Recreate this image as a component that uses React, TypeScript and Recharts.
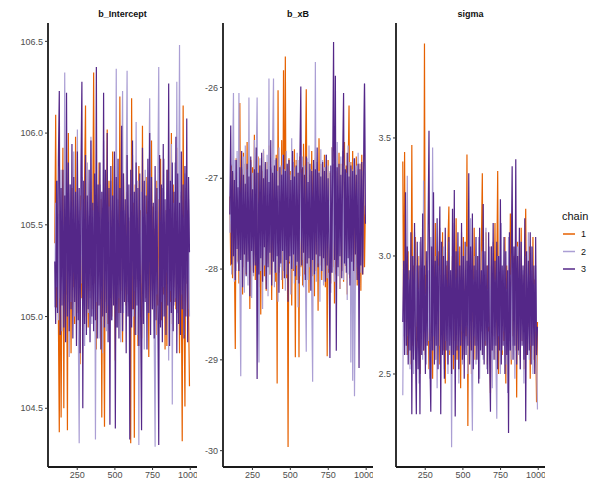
import { LineChart, Line, XAxis, YAxis } from 'recharts'

// iterations (post warmup), one row per drawn draw
const ITER = [
  101, 107, 113, 119, 125, 131, 137, 143, 149, 155, 161, 167, 173, 179, 185, 191, 197, 203, 209, 215,
  221, 227, 233, 239, 245, 251, 257, 263, 269, 275, 281, 287, 293, 299, 305, 311, 317, 323, 329, 335,
  341, 347, 353, 359, 365, 371, 377, 383, 389, 395, 401, 407, 413, 419, 425, 431, 437, 443, 449, 455,
  461, 467, 473, 479, 485, 491, 497, 503, 509, 515, 521, 527, 533, 539, 545, 551, 557, 563, 569, 575,
  581, 587, 593, 599, 605, 611, 617, 623, 629, 635, 641, 647, 653, 659, 665, 671, 677, 683, 689, 695,
  701, 707, 713, 719, 725, 731, 737, 743, 749, 755, 761, 767, 773, 779, 785, 791, 797, 803, 809, 815,
  821, 827, 833, 839, 845, 851, 857, 863, 869, 875, 881, 887, 893, 899, 905, 911, 917, 923, 929, 935,
  941, 947, 953, 959, 965, 971, 977, 983, 989, 995,
]

const CHAINS = ['1', '2', '3']
const CHAIN_COLORS = ['#e66101', '#ab9fd4', '#542788']

// b_Intercept
const INTERCEPT_1 = [
  105.40, 106.10, 105.05, 105.62, 104.98, 104.37, 105.58, 104.45, 105.30, 105.92,
  104.50, 105.66, 105.12, 105.48, 104.38, 106.00, 105.08, 105.54, 104.80, 105.70,
  105.16, 105.44, 104.96, 105.98, 105.20, 105.60, 105.02, 105.38, 104.74, 105.66,
  105.10, 105.52, 105.24, 105.76, 106.15, 105.00, 105.58, 104.94, 105.46, 105.14,
  105.68, 105.04, 105.56, 106.33, 105.18, 105.62, 104.82, 105.50, 105.06, 105.84,
  105.22, 105.64, 104.45, 105.54, 105.12, 104.40, 105.70, 105.08, 106.02, 104.96,
  105.74, 105.18, 105.58, 105.00, 105.90, 105.26, 105.48, 104.76, 105.66, 105.10,
  105.56, 105.02, 106.20, 105.14, 105.60, 104.86, 105.78, 105.20, 105.44, 105.06,
  105.68, 105.12, 105.52, 104.92, 104.31, 106.19, 105.04, 105.62, 104.34, 105.72,
  105.16, 105.50, 104.84, 105.82, 105.22, 105.58, 104.88, 106.04, 105.08, 105.46,
  105.10, 105.76, 105.26, 105.54, 104.78, 105.70, 105.14, 105.96, 105.04, 105.60,
  105.18, 105.48, 104.90, 105.74, 105.06, 105.64, 105.24, 105.86, 104.98, 105.52,
  105.12, 105.68, 104.82, 105.58, 104.84, 105.80, 105.20, 105.46, 105.08, 106.00,
  104.96, 105.72, 105.16, 105.56, 105.04, 105.92, 105.10, 105.50, 104.80, 105.66,
  105.14, 104.32, 106.15, 105.08, 104.51, 105.70, 105.18, 105.58, 105.02, 104.62,
]
const INTERCEPT_2 = [
  105.05, 105.62, 105.16, 105.74, 104.98, 105.56, 105.10, 105.80, 104.92, 105.50,
  105.14, 106.33, 105.04, 105.66, 105.20, 105.48, 104.78, 105.72, 105.08, 105.60,
  105.24, 105.90, 105.00, 105.54, 105.12, 106.02, 104.94, 104.31, 105.58, 105.18,
  105.76, 105.06, 105.64, 104.84, 105.52, 105.16, 105.84, 105.02, 105.46, 105.10,
  105.98, 104.96, 105.58, 105.22, 105.78, 104.33, 105.62, 105.08, 105.50, 104.88,
  105.72, 105.14, 105.56, 104.80, 105.96, 105.20, 105.44, 104.92, 105.66, 105.06,
  105.60, 105.18, 105.74, 104.98, 105.52, 105.12, 105.82, 105.04, 106.35, 104.94,
  105.64, 105.10, 105.48, 104.86, 105.70, 106.23, 105.02, 105.58, 105.16, 105.76,
  106.34, 105.08, 105.54, 104.96, 105.66, 105.22, 105.88, 105.00, 105.50, 105.14,
  106.06, 104.90, 105.74, 104.30, 105.58, 105.06, 105.68, 105.18, 105.46, 104.82,
  105.80, 105.10, 105.56, 105.02, 105.72, 106.19, 105.04, 105.60, 105.20, 105.48,
  104.88, 104.29, 105.64, 105.12, 105.76, 106.36, 104.96, 105.52, 105.08, 105.70,
  105.16, 105.86, 105.00, 105.58, 105.24, 105.66, 104.76, 105.50, 105.14, 105.94,
  104.52, 105.62, 105.06, 105.84, 105.10, 106.28, 105.02, 105.56, 106.48, 104.98,
  105.68, 105.12, 105.54, 104.90, 105.78, 105.18, 105.48, 105.04, 105.64, 105.00,
]
const INTERCEPT_3 = [
  105.30, 104.96, 105.74, 105.02, 105.86, 106.23, 104.90, 105.70, 105.06, 105.80,
  104.94, 105.66, 104.86, 106.22, 105.00, 105.84, 104.92, 105.72, 105.04, 105.94,
  104.88, 105.76, 105.08, 105.68, 104.84, 105.90, 104.98, 105.70, 104.80, 105.82,
  106.28, 104.50, 105.74, 104.96, 105.88, 104.90, 105.66, 105.04, 105.80, 104.86,
  105.96, 105.00, 105.62, 104.92, 105.78, 104.98, 106.36, 104.88, 105.72, 105.06,
  105.84, 104.82, 105.68, 105.00, 106.22, 104.94, 105.80, 105.02, 106.00, 104.86,
  105.70, 104.41, 105.82, 104.98, 105.66, 105.06, 105.90, 104.39, 105.76, 104.94,
  105.86, 104.88, 105.70, 105.02, 106.04, 104.92, 105.78, 105.08, 105.64, 104.80,
  105.88, 105.00, 105.72, 104.33, 105.80, 104.94, 105.96, 105.04, 105.68, 104.90,
  105.84, 105.06, 105.70, 104.84, 105.78, 104.98, 104.38, 105.92, 104.96, 105.74,
  105.08, 105.66, 104.82, 105.86, 105.02, 106.00, 104.90, 105.76, 105.04, 105.62,
  104.88, 105.82, 104.98, 105.70, 105.06, 104.30, 105.88, 104.94, 105.72, 104.86,
  105.94, 105.00, 105.64, 104.90, 105.80, 105.06, 106.27, 104.84, 105.74, 105.02,
  105.84, 104.92, 105.68, 105.08, 105.98, 104.80, 105.78, 104.96, 105.62, 104.90,
  105.90, 105.04, 105.72, 104.88, 105.82, 105.00, 106.08, 104.86, 105.76, 105.35,
]

// b_xB
const XB_1 = [
  -27.20, -27.96, -26.86, -28.10, -26.94, -27.84, -28.88, -26.78, -27.92, -26.98,
  -28.16, -26.17, -27.88, -26.90, -28.28, -26.72, -27.98, -26.84, -28.06, -26.60,
  -27.90, -26.96, -28.44, -26.80, -28.02, -26.88, -27.86, -26.52, -28.12, -26.94,
  -27.96, -26.76, -28.20, -26.86, -28.50, -26.92, -27.90, -26.70, -28.08, -26.98,
  -28.24, -26.82, -27.94, -26.64, -28.06, -26.90, -28.34, -26.80, -27.88, -26.96,
  -28.14, -26.74, -29.26, -26.03, -28.04, -26.88, -27.92, -26.58, -28.22, -25.81,
  -27.96, -25.66, -28.10, -26.86, -29.96, -26.78, -27.94, -26.92, -28.40, -26.84,
  -28.02, -26.68, -28.97, -26.80, -28.12, -26.94, -28.97, -26.76, -27.98, -26.90,
  -28.18, -26.62, -28.06, -26.88, -26.02, -27.94, -26.82, -28.26, -26.96, -27.90,
  -26.70, -28.08, -26.86, -28.30, -26.78, -28.02, -26.92, -28.46, -26.56, -27.96,
  -26.84, -28.12, -26.90, -27.92, -26.74, -28.20, -26.88, -28.96, -26.80, -28.04,
  -26.94, -28.16, -26.66, -27.98, -26.86, -28.38, -26.78, -28.06, -26.92, -27.90,
  -26.72, -28.22, -26.84, -28.02, -26.90, -28.14, -26.60, -27.96, -26.86, -28.28,
  -26.94, -26.20, -28.10, -26.82, -27.98, -26.70, -28.32, -26.88, -28.04, -26.76,
  -28.18, -26.90, -27.94, -26.84, -28.24, -26.74, -28.06, -26.92, -27.98, -27.30,
]
const XB_2 = [
  -27.60, -26.84, -28.06, -26.92, -26.06, -28.14, -26.80, -28.02, -26.70, -27.94,
  -26.06, -28.10, -29.18, -26.88, -27.98, -26.76, -28.26, -26.64, -28.04, -26.90,
  -28.18, -26.11, -27.96, -26.82, -28.32, -26.94, -28.08, -26.58, -27.92, -26.86,
  -26.11, -28.16, -29.03, -26.78, -28.02, -26.90, -28.44, -26.68, -27.96, -26.84,
  -28.12, -26.74, -28.30, -25.90, -28.06, -26.88, -27.94, -26.62, -25.90, -28.20,
  -26.80, -28.04, -26.92, -28.36, -26.66, -27.98, -26.86, -28.12, -26.74, -28.02,
  -26.90, -28.24, -26.70, -28.06, -26.84, -27.92, -26.96, -28.28, -26.56, -28.00,
  -26.82, -28.16, -26.88, -27.96, -26.72, -28.42, -26.80, -28.08, -26.94, -27.90,
  -26.76, -28.20, -26.86, -28.04, -28.91, -26.78, -28.12, -26.64, -27.98, -26.90,
  -28.30, -29.24, -26.84, -28.06, -25.72, -28.14, -26.82, -27.94, -26.92, -28.36,
  -26.68, -28.02, -26.80, -28.18, -26.88, -27.96, -26.74, -28.10, -26.86, -28.00,
  -26.92, -28.26, -26.66, -28.04, -26.84, -28.14, -26.78, -27.92, -26.60, -28.08,
  -26.88, -28.22, -26.76, -28.02, -26.70, -28.12, -26.86, -27.96, -26.94, -28.34,
  -26.64, -28.06, -26.82, -29.03, -26.90, -29.23, -26.78, -29.40, -28.10, -26.86,
  -27.98, -26.72, -28.16, -26.84, -28.04, -26.92, -27.94, -26.80, -25.95, -27.40,
]
const XB_3 = [
  -27.40, -26.42, -27.95, -26.92, -27.86, -27.02, -28.12, -26.80, -27.78, -27.10,
  -28.02, -26.88, -27.90, -26.70, -28.20, -26.96, -27.84, -27.06, -28.08, -26.84,
  -27.92, -26.98, -28.30, -26.76, -27.80, -27.12, -28.04, -26.90, -27.96, -26.66,
  -29.21, -26.94, -28.06, -26.86, -27.88, -26.72, -28.14, -27.00, -27.76, -26.82,
  -28.22, -26.90, -27.98, -27.04, -27.82, -26.58, -28.18, -26.94, -27.92, -26.86,
  -28.04, -26.78, -27.86, -27.08, -28.26, -26.88, -27.94, -26.96, -27.80, -26.74,
  -28.10, -26.92, -27.90, -26.84, -28.36, -26.80, -27.86, -27.02, -28.00, -26.70,
  -27.84, -26.98, -28.08, -26.86, -27.92, -26.94, -28.16, -26.78, -25.99, -27.96,
  -26.88, -27.82, -26.96, -28.12, -26.76, -27.94, -27.04, -27.88, -26.84, -28.24,
  -26.92, -27.90, -26.80, -28.06, -26.90, -27.84, -26.66, -27.98, -26.94, -27.86,
  -26.98, -28.02, -26.82, -27.88, -26.92, -28.14, -26.74, -27.96, -27.00, -27.80,
  -28.98, -26.86, -28.04, -26.94, -25.50, -27.90, -25.87, -28.90, -26.88, -27.98,
  -26.84, -27.86, -26.96, -28.10, -26.80, -26.06, -27.94, -26.90, -28.04, -26.72,
  -27.88, -26.98, -28.18, -26.86, -27.92, -26.92, -28.02, -26.78, -27.84, -26.96,
  -28.12, -26.84, -29.09, -26.90, -27.96, -26.82, -28.06, -26.94, -25.96, -27.50,
]

// sigma
const SIGMA_1 = [
  3.40, 2.66, 3.44, 2.72, 2.94, 2.58, 3.02, 2.68, 2.88, 2.54,
  3.47, 2.62, 2.96, 2.70, 3.08, 2.56, 2.90, 2.64, 3.00, 2.50,
  2.86, 2.66, 3.12, 2.60, 3.90, 2.58, 2.92, 2.70, 2.84, 2.52,
  3.04, 2.64, 2.94, 2.48, 2.98, 2.68, 3.14, 2.56, 2.88, 2.62,
  3.02, 2.54, 2.92, 2.72, 3.10, 2.60, 2.86, 2.46, 2.96, 2.66,
  3.06, 3.21, 2.58, 2.90, 2.70, 3.00, 2.52, 2.94, 2.64, 3.16,
  2.56, 2.88, 2.68, 3.04, 2.44, 2.92, 2.62, 3.08, 2.58, 2.86,
  2.66, 3.43, 2.28, 2.96, 2.60, 3.02, 2.50, 2.90, 2.72, 3.12,
  2.56, 2.94, 2.64, 3.00, 2.48, 2.88, 2.70, 3.06, 3.35, 2.58,
  2.92, 2.62, 3.10, 2.54, 2.96, 2.68, 2.86, 2.42, 3.04, 2.60,
  2.90, 2.66, 3.14, 2.56, 2.94, 3.36, 2.50, 2.88, 2.70, 3.02,
  2.58, 2.92, 2.64, 3.08, 2.46, 2.96, 2.62, 2.86, 2.72, 3.18,
  2.54, 2.90, 2.66, 3.00, 2.60, 2.94, 2.40, 3.06, 2.68, 2.88,
  2.56, 3.12, 2.64, 2.92, 2.52, 2.98, 3.20, 2.58, 2.86, 2.70,
  3.04, 2.48, 2.94, 2.62, 3.08, 2.56, 2.90, 2.66, 2.38, 2.72,
]
const SIGMA_2 = [
  2.41, 2.94, 2.62, 3.04, 2.58, 3.34, 2.66, 2.90, 2.52, 3.00,
  2.64, 2.88, 2.50, 3.10, 2.60, 2.96, 2.70, 2.86, 2.46, 3.06,
  2.62, 2.92, 2.56, 3.32, 2.68, 2.84, 2.54, 3.02, 2.64, 2.94,
  2.48, 3.08, 2.60, 3.46, 2.66, 2.90, 2.56, 3.00, 2.44, 2.96,
  2.62, 3.12, 2.58, 2.88, 2.70, 3.04, 2.52, 2.92, 2.64, 2.86,
  2.50, 3.06, 2.60, 2.94, 2.19, 2.98, 2.66, 3.14, 2.56, 2.90,
  2.62, 3.02, 2.46, 2.88, 2.68, 3.10, 2.54, 2.96, 2.60, 2.84,
  2.70, 3.04, 2.50, 2.92, 2.64, 3.16, 2.58, 2.26, 2.90, 2.66,
  3.00, 2.54, 2.94, 2.62, 3.08, 2.48, 2.88, 2.68, 3.02, 2.56,
  2.92, 2.64, 3.12, 2.52, 2.86, 2.70, 3.04, 2.58, 2.96, 2.44,
  3.06, 2.62, 2.90, 2.56, 2.31, 3.00, 2.66, 2.88, 2.50, 3.14,
  2.60, 2.94, 2.68, 3.02, 2.54, 2.86, 2.42, 3.08, 2.64, 2.92,
  2.56, 3.18, 2.62, 2.90, 2.48, 2.98, 2.70, 3.04, 2.58, 2.88,
  2.52, 3.06, 2.64, 2.94, 2.46, 3.00, 2.60, 2.86, 2.66, 3.10,
  2.56, 2.92, 2.62, 3.04, 2.50, 2.88, 2.68, 2.96, 2.58, 2.35,
]
const SIGMA_3 = [
  2.72, 2.98, 2.58, 3.27, 2.62, 3.04, 2.54, 2.94, 2.60, 3.10,
  2.33, 3.00, 2.56, 3.14, 2.62, 2.33, 3.06, 2.52, 2.96, 2.33,
  3.08, 2.58, 3.18, 2.60, 2.96, 2.50, 3.02, 2.62, 3.12, 3.53,
  2.56, 2.34, 3.04, 2.60, 3.27, 2.54, 2.98, 2.62, 3.16, 2.52,
  2.96, 3.21, 2.33, 3.06, 2.58, 3.00, 2.48, 3.12, 2.60, 2.98,
  2.54, 3.08, 2.62, 2.94, 2.50, 3.20, 2.58, 3.28, 2.32, 3.02,
  2.60, 3.10, 2.52, 2.96, 2.62, 3.14, 2.56, 3.00, 2.48, 3.06,
  2.58, 2.98, 2.62, 3.35, 2.54, 3.04, 2.60, 3.18, 2.52, 2.96,
  2.62, 3.08, 2.56, 3.00, 2.46, 3.12, 2.60, 2.94, 2.58, 3.22,
  2.54, 3.02, 2.62, 2.96, 2.50, 3.10, 2.58, 2.34, 3.04, 2.60,
  3.14, 2.56, 2.98, 2.62, 3.06, 2.52, 3.00, 2.60, 3.24, 2.54,
  2.96, 2.62, 3.08, 2.50, 3.02, 2.58, 2.94, 2.25, 3.10, 2.60,
  2.98, 3.38, 2.56, 3.04, 2.62, 3.41, 2.54, 3.00, 2.60, 3.12,
  2.52, 3.06, 2.62, 2.96, 2.56, 3.16, 2.30, 3.02, 2.58, 2.98,
  2.60, 3.10, 2.54, 3.04, 2.62, 2.96, 2.50, 3.08, 2.58, 2.70,
]

const X_TICKS = [250, 500, 750, 1000]
const INTERCEPT_TICKS = [104.5, 105.0, 105.5, 106.0, 106.5]
const XB_TICKS = [-30, -29, -28, -27, -26]
const SIGMA_TICKS = [2.5, 3.0, 3.5]

const FONT = '"Liberation Sans", Arial, Helvetica, sans-serif'

function rows(c1: number[], c2: number[], c3: number[]) {
  return ITER.map((iter, i) => ({ iter, c1: c1[i], c2: c2[i], c3: c3[i] }))
}

interface PanelProps {
  title: string
  data: { iter: number; c1: number; c2: number; c3: number }[]
  domain: [number, number]
  ticks: number[]
  fmt: (v: number) => string
  left: number
  yWidth: number
  width: number
}

function Panel({ title, data, domain, ticks, fmt, left, yWidth, width }: PanelProps) {
  const plotMid = left + yWidth + (width - yWidth) / 2
  return (
    <>
      <div
        style={{
          position: 'absolute', left: plotMid - 60, width: 120, top: 9,
          textAlign: 'center', fontFamily: FONT, fontSize: 9, fontWeight: 'bold', color: '#111',
        }}
      >
        {title}
      </div>
      <div style={{ position: 'absolute', left, top: 0 }}>
        <LineChart width={width} height={500} data={data} margin={{ top: 23, right: 0, bottom: 0, left: 0 }}>
          <XAxis
            dataKey="iter" type="number" domain={[56, 1045]} ticks={X_TICKS} height={33}
            allowDataOverflow
            axisLine={{ stroke: '#1a1a1a', strokeWidth: 1.8 }}
            tickLine={{ stroke: '#333' }} tickSize={3}
            tick={{ fontSize: 9, fill: '#4d4d4d', fontFamily: FONT }}
          />
          <YAxis
            type="number" domain={domain} ticks={ticks} width={yWidth} allowDataOverflow
            tickFormatter={fmt}
            axisLine={{ stroke: '#1a1a1a', strokeWidth: 1.8 }}
            tickLine={{ stroke: '#333' }} tickSize={3}
            tick={{ fontSize: 9, fill: '#4d4d4d', fontFamily: FONT }}
          />
          {['c1', 'c2', 'c3'].map((key, i) => (
            <Line
              key={key} type="linear" dataKey={key} stroke={CHAIN_COLORS[i]} strokeWidth={1.2}
              dot={false} activeDot={false} isAnimationActive={false}
            />
          ))}
        </LineChart>
      </div>
    </>
  )
}

export default function App() {
  return (
    <div style={{ position: 'absolute', left: 0, top: 0, width: 600, height: 500, background: '#fff', overflow: 'hidden' }}>
      <Panel
        title="b_Intercept" data={rows(INTERCEPT_1, INTERCEPT_2, INTERCEPT_3)}
        domain={[104.18, 106.6]} ticks={INTERCEPT_TICKS} fmt={(v) => v.toFixed(1)}
        left={0} yWidth={48} width={197}
      />
      <Panel
        title="b_xB" data={rows(XB_1, XB_2, XB_3)}
        domain={[-30.18, -25.29]} ticks={XB_TICKS} fmt={(v) => String(v)}
        left={190} yWidth={33} width={183}
      />
      <Panel
        title="sigma" data={rows(SIGMA_1, SIGMA_2, SIGMA_3)}
        domain={[2.106, 3.987]} ticks={SIGMA_TICKS} fmt={(v) => v.toFixed(1)}
        left={370} yWidth={26} width={175}
      />
      {/* legend */}
      <svg style={{ position: 'absolute', left: 550, top: 200 }} width={50} height={90}>
        <text x={12} y={20} fontSize={11} fontFamily={FONT} fill="#111">chain</text>
        {CHAINS.map((c, i) => (
          <g key={c}>
            <line x1={13} x2={25} y1={34 + i * 17.5} y2={34 + i * 17.5} stroke={CHAIN_COLORS[i]} strokeWidth={1.5} />
            <text x={31} y={37 + i * 17.5} fontSize={9} fontFamily={FONT} fill="#111">{c}</text>
          </g>
        ))}
      </svg>
    </div>
  )
}
